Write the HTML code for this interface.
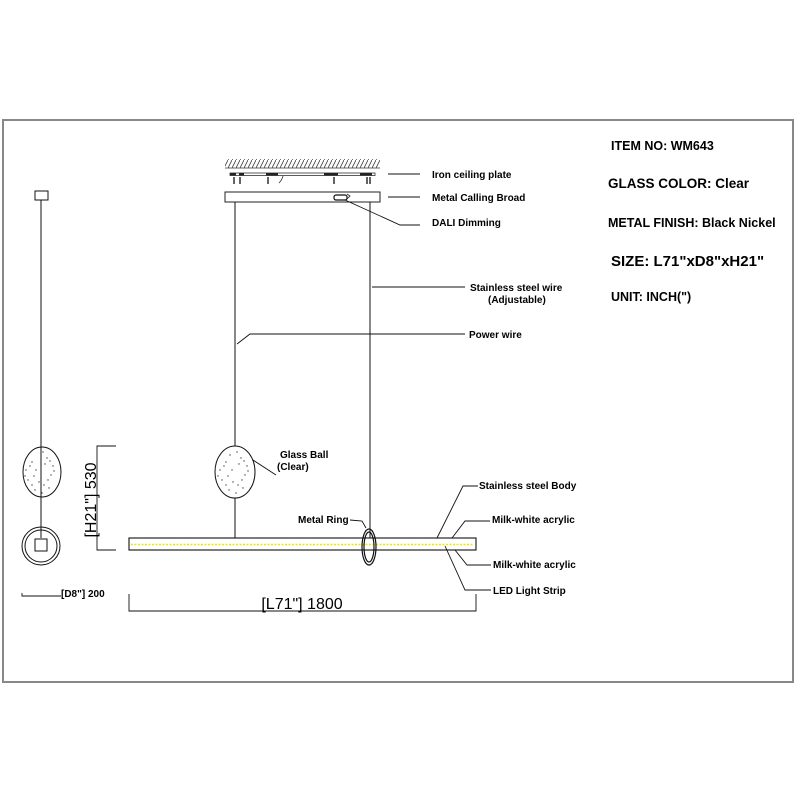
<!DOCTYPE html>
<html><head><meta charset="utf-8"><style>
html,body{margin:0;padding:0;background:#fff;}
svg{display:block;}
text{font-family:"Liberation Sans",Arial,sans-serif;fill:#000;}
</style></head><body>
<svg width="800" height="800" viewBox="0 0 800 800" xmlns="http://www.w3.org/2000/svg">
<defs>
<pattern id="h" width="4" height="8" patternUnits="userSpaceOnUse">
<line x1="0" y1="8" x2="4" y2="0" stroke="#333" stroke-width="0.8"/>
</pattern>
</defs>
<rect x="3" y="120" width="790" height="562" fill="none" stroke="#888" stroke-width="2"/>

<!-- ceiling -->
<rect x="225" y="159" width="155" height="9" fill="url(#h)"/>
<line x1="225" y1="168" x2="380" y2="168" stroke="#333" stroke-width="0.8"/>
<rect x="230" y="173" width="145" height="2.5" fill="none" stroke="#333" stroke-width="0.8"/>
<g fill="#222">
<rect x="230" y="173" width="6" height="2.5"/><rect x="239" y="173" width="5" height="2.5"/>
<rect x="266" y="173" width="12" height="2.5"/><rect x="324" y="173" width="14" height="2.5"/>
<rect x="360" y="173" width="12" height="2.5"/>
</g>
<g stroke="#111" stroke-width="1.3">
<line x1="234" y1="177" x2="234" y2="184"/><line x1="240" y1="177" x2="240" y2="184"/>
<line x1="268" y1="177" x2="268" y2="184"/><line x1="334" y1="177" x2="334" y2="184"/>
<line x1="367" y1="177" x2="367" y2="184"/><line x1="370" y1="177" x2="370" y2="184"/>
</g>
<path d="M283 176 Q282 180 279 183" fill="none" stroke="#333" stroke-width="0.8"/>
<rect x="225" y="192" width="155" height="10" fill="#fff" stroke="#222" stroke-width="1"/>
<rect x="334" y="195" width="13" height="5" rx="2" fill="#fff" stroke="#111" stroke-width="1.2"/>
<path d="M347 194 L350 196 L347 199" fill="none" stroke="#222" stroke-width="0.8"/>

<!-- wires -->
<line x1="235" y1="202" x2="235" y2="538" stroke="#111" stroke-width="1"/>
<line x1="370" y1="202" x2="370" y2="538" stroke="#111" stroke-width="1"/>

<!-- glass ball -->
<ellipse cx="235" cy="472" rx="20" ry="26" fill="#fff" stroke="#111" stroke-width="1"/>
<ellipse cx="42" cy="472" rx="19" ry="25" fill="#fff" stroke="#111" stroke-width="1"/>
<g fill="#444">
<circle cx="226" cy="462" r="0.7"/><circle cx="241" cy="458" r="0.7"/><circle cx="232" cy="470" r="0.7"/><circle cx="245" cy="475" r="0.7"/><circle cx="222" cy="480" r="0.7"/><circle cx="238" cy="485" r="0.7"/><circle cx="229" cy="490" r="0.7"/><circle cx="247" cy="466" r="0.7"/><circle cx="220" cy="470" r="0.7"/><circle cx="243" cy="488" r="0.7"/><circle cx="230" cy="455" r="0.7"/>
<circle cx="224" cy="466" r="0.7"/><circle cx="239" cy="464" r="0.7"/><circle cx="228" cy="476" r="0.7"/><circle cx="242" cy="480" r="0.7"/><circle cx="233" cy="482" r="0.7"/><circle cx="226" cy="485" r="0.7"/><circle cx="248" cy="471" r="0.7"/><circle cx="236" cy="493" r="0.7"/><circle cx="237" cy="452" r="0.7"/><circle cx="218" cy="476" r="0.7"/><circle cx="244" cy="461" r="0.7"/>
<circle cx="32" cy="462" r="0.7"/><circle cx="47" cy="458" r="0.7"/><circle cx="36" cy="470" r="0.7"/><circle cx="51" cy="475" r="0.7"/><circle cx="28" cy="480" r="0.7"/><circle cx="44" cy="485" r="0.7"/><circle cx="35" cy="490" r="0.7"/><circle cx="53" cy="466" r="0.7"/><circle cx="26" cy="470" r="0.7"/><circle cx="49" cy="488" r="0.7"/>
<circle cx="30" cy="466" r="0.7"/><circle cx="45" cy="464" r="0.7"/><circle cx="34" cy="476" r="0.7"/><circle cx="48" cy="480" r="0.7"/><circle cx="39" cy="482" r="0.7"/><circle cx="32" cy="485" r="0.7"/><circle cx="54" cy="471" r="0.7"/><circle cx="42" cy="493" r="0.7"/><circle cx="43" cy="452" r="0.7"/><circle cx="25" cy="476" r="0.7"/><circle cx="50" cy="461" r="0.7"/>
</g>

<!-- bar -->
<rect x="129" y="538" width="347" height="12" fill="#fff" stroke="#111" stroke-width="1.1"/>
<line x1="131" y1="544.5" x2="474" y2="544.5" stroke="#f0e600" stroke-width="1.5" stroke-dasharray="2,1.5"/>
<!-- ring -->
<ellipse cx="369" cy="547" rx="7" ry="18" fill="none" stroke="#111" stroke-width="1.2"/>
<ellipse cx="369" cy="547" rx="5" ry="15" fill="none" stroke="#111" stroke-width="1.2"/>

<!-- side view -->
<rect x="35" y="191" width="13" height="9" fill="#fff" stroke="#111" stroke-width="1"/>
<line x1="41" y1="200" x2="41" y2="538" stroke="#111" stroke-width="1"/>
<circle cx="41" cy="546" r="19" fill="none" stroke="#111" stroke-width="1"/>
<circle cx="41" cy="546" r="16" fill="none" stroke="#111" stroke-width="1"/>
<rect x="35" y="539" width="12" height="12" fill="#fff" stroke="#111" stroke-width="1"/>

<!-- leaders -->
<g stroke="#111" stroke-width="0.9" fill="none">
<line x1="388" y1="174" x2="420" y2="174"/>
<line x1="388" y1="197" x2="420" y2="197"/>
<polyline points="345,200 400,225 420,225"/>
<line x1="372" y1="287" x2="465" y2="287"/>
<polyline points="237,344 250,334 465,334"/>
<polyline points="253,460 276,475"/>
<polyline points="350,520 362,521 366,528"/>
<polyline points="437,538 463,486 478,486"/>
<polyline points="452,538 465,521 490,521"/>
<polyline points="455,550 467,565 491,565"/>
<polyline points="445,546 465,590 491,590"/>
<polyline points="129,594 129,611 476,611 476,594"/>
<polyline points="116,446 97,446 97,550 116,550"/>
<polyline points="22,593 22,596 61,596"/>
</g>

<!-- labels -->
<g font-size="10" font-weight="bold">
<text x="432" y="178">Iron ceiling plate</text>
<text x="432" y="201">Metal Calling Broad</text>
<text x="432" y="226">DALI Dimming</text>
<text x="470" y="291">Stainless steel wire</text>
<text x="488" y="303">(Adjustable)</text>
<text x="469" y="338">Power wire</text>
<text x="280" y="458">Glass Ball</text>
<text x="277" y="470">(Clear)</text>
<text x="298" y="523">Metal Ring</text>
<text x="479" y="489">Stainless steel Body</text>
<text x="492" y="523">Milk-white acrylic</text>
<text x="493" y="568">Milk-white acrylic</text>
<text x="493" y="594">LED Light Strip</text>
<text x="61" y="597">[D8"] 200</text>
</g>
<text x="302" y="609" font-size="16" text-anchor="middle">[L71"] 1800</text>
<text transform="translate(96,500) rotate(-90)" font-size="16" text-anchor="middle">[H21"] 530</text>

<g font-size="12.5" font-weight="bold">
<text x="611" y="150">ITEM NO: WM643</text>
<text x="608" y="188" font-size="13.5">GLASS COLOR: Clear</text>
<text x="608" y="227">METAL FINISH: Black Nickel</text>
<text x="611" y="266" font-size="15">SIZE: L71"xD8"xH21"</text>
<text x="611" y="301">UNIT:  INCH(")</text>
</g>
</svg>
</body></html>
